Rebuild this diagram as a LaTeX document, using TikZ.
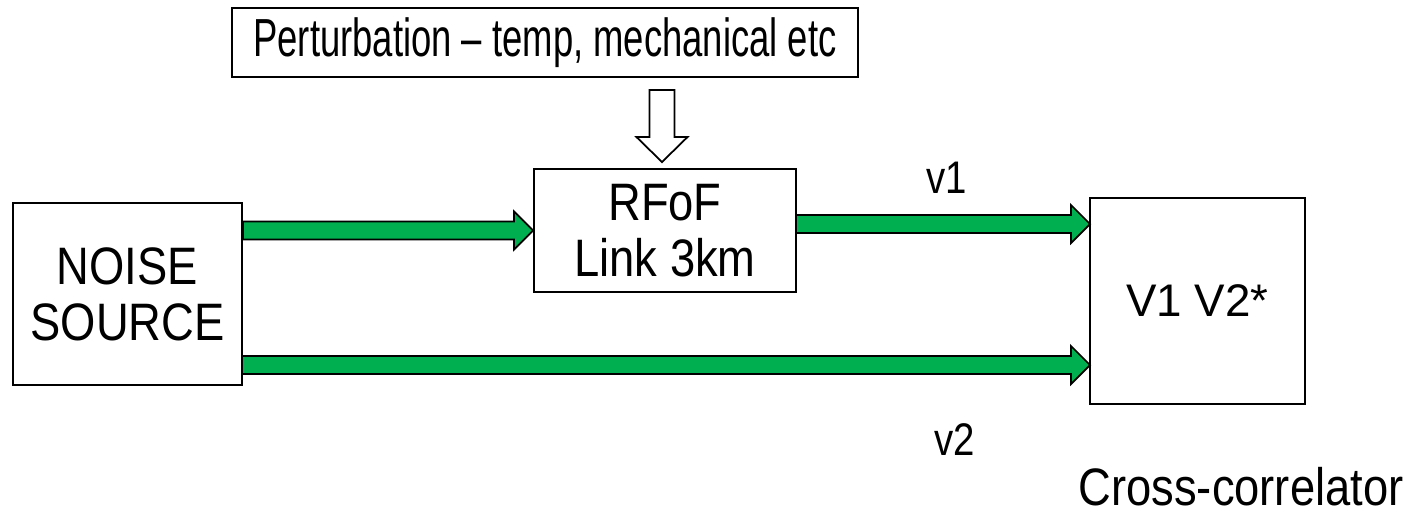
\documentclass[tikz,border=0pt]{standalone}
\usepackage{fontspec}
\setmainfont{Liberation Sans}
\newfontfamily\pertfont[FakeStretch=0.68]{Liberation Sans}
\newfontfamily\boxfont[FakeStretch=0.86]{Liberation Sans}
\newfontfamily\labfont[FakeStretch=0.84]{Liberation Sans}
\usetikzlibrary{calc}
\definecolor{pptgreen}{RGB}{0,176,80}

% fat block arrow between two named points (horizontal)
\newcommand\fatarrow[2]{%
  \filldraw[fatarrow] ($(#1)+(0,-9)$) -- ($(#2)+(-19,-9)$) -- ($(#2)+(-19,-19)$)
    -- (#2) -- ($(#2)+(-19,19)$) -- ($(#2)+(-19,9)$) -- ($(#1)+(0,9)$) -- cycle;}

\begin{document}
\begin{tikzpicture}[
        x=0.02cm, y=-0.02cm,
        bloque/.style={draw, line width=1.1pt, inner sep=0pt, align=center,
            font=\boxfont\fontsize{30}{32}\selectfont},
        etiqueta/.style={inner sep=0pt, anchor=base, text depth=0pt,
            font=\labfont\fontsize{26}{28}\selectfont},
        fatarrow/.style={fill=pptgreen, draw=black, line width=1pt, line join=miter},
        hueca/.style={fill=white, draw=black, line width=1pt, line join=miter}
    ]
        \useasboundingbox (0,0) rectangle (1417,514);

        % Bloques
        \node[bloque, minimum width=626*0.02cm, minimum height=69*0.02cm,
            font=\pertfont\fontsize{30.5}{33}\selectfont] (pert) at (545,42.5)
            {Perturbation – temp, mechanical etc};
        \node[bloque, minimum width=229*0.02cm, minimum height=182*0.02cm] (noise) at (127.5,294)
            {NOISE\\SOURCE};
        \node[bloque, minimum width=262*0.02cm, minimum height=123*0.02cm] (rfof) at (665,230.5)
            {RFoF\\Link 3km};
        \node[bloque, minimum width=215*0.02cm, minimum height=206*0.02cm,
            font=\fontsize{26}{28}\selectfont] (cc) at (1197.5,301)
            {V1 V2*};

        % Etiquetas
        \node[etiqueta] (v1) at (947,193) {v1};
        \node[etiqueta] (v2) at (955,455) {v2};
        \node[etiqueta, font=\boxfont\fontsize{30}{32}\selectfont] (cclabel) at (1241,505)
            {Cross-correlator};

        % Extremos de las flechas
        \coordinate (a1) at (noise.east |- rfof.west);
        \coordinate (b1s) at (796,224);
        \coordinate (b1e) at (1090,224);
        \coordinate (c1s) at (242,365);
        \coordinate (c1e) at (1090,365);

        \fatarrow{a1}{rfof.west}
        \fatarrow{b1s}{b1e}
        \fatarrow{c1s}{c1e}

        % Flecha hueca de la perturbacion
        \coordinate (ptop) at ($(rfof.north)+(-3,-78)$);
        \coordinate (ptip) at ($(rfof.north)+(-3,-6)$);
        \filldraw[hueca] ($(ptop)+(-12.5,0)$) -- ($(ptip)+(-12.5,-25)$) -- ($(ptip)+(-25.5,-25)$)
            -- (ptip) -- ($(ptip)+(25.5,-25)$) -- ($(ptip)+(12.5,-25)$) -- ($(ptop)+(12.5,0)$) -- cycle;
    \end{tikzpicture}
\end{document}
